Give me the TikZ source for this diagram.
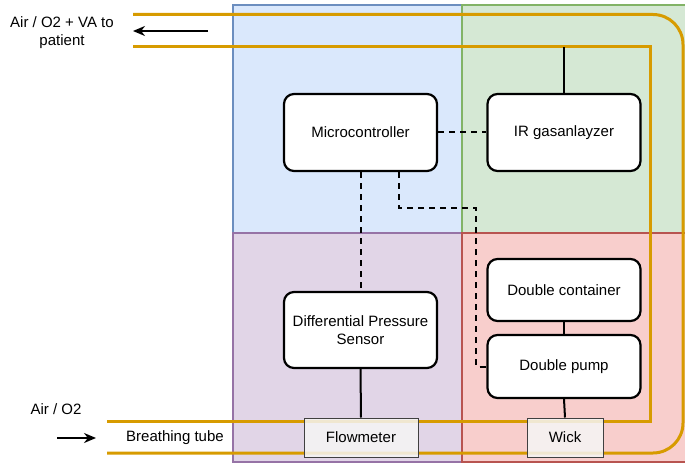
\documentclass[tikz,border=0pt]{standalone}
\usepackage{fontspec}
\setmainfont{Liberation Sans}
\usepackage{xcolor}
\usetikzlibrary{arrows, arrows.meta, positioning, calc}

\definecolor{tubeorange}{HTML}{D79B00}
\definecolor{blueFill}{HTML}{DAE8FC}
\definecolor{blueLine}{HTML}{6C8EBF}
\definecolor{greenFill}{HTML}{D5E8D4}
\definecolor{greenLine}{HTML}{82B366}
\definecolor{purpleFill}{HTML}{E1D5E7}
\definecolor{purpleLine}{HTML}{9673A6}
\definecolor{redFill}{HTML}{F8CECC}
\definecolor{redLine}{HTML}{B85450}

\begin{document}
\begin{tikzpicture}[>={Stealth[length=12pt,width=10pt]}, x=1pt, y=-1pt,
    every node/.style={font=\fontsize{15}{18}\selectfont},
    block/.style={rectangle, draw, line width=2.2pt, rounded corners=10pt, fill=white, minimum width=153pt, align=center},
    sensorbox/.style={rectangle, draw=black!75, line width=1pt, fill=black!4, fill opacity=0.85, text opacity=1, minimum height=39pt},
    tube/.style={draw=tubeorange, line width=3pt},
    region/.style={line width=1.5pt},
    wire/.style={line width=2pt},
    dashwire/.style={line width=2pt, dash pattern=on 6pt off 5pt}]
    \useasboundingbox (0,0) rectangle (685,465);

    \draw [region, fill=blueFill, draw=blueLine] (233,5) rectangle (462,233);
    \draw [region, fill=greenFill, draw=greenLine] (462,5) rectangle (686,233);
    \draw [region, fill=purpleFill, draw=purpleLine] (233,233) rectangle (462,462);
    \draw [region, fill=redFill, draw=redLine] (462,233) rectangle (686,462);

    \coordinate (inTop) at (133,47);
    \draw [tube, rounded corners=30pt] (133,14.5) -- (683,14.5) -- (683,453) -- (107,453);
    \draw [tube] (inTop) -- (650,47) -- (650,421) -- (107,421);

    \node (Out) at (62,33) [align=center] {Air / O2 + VA to\\patient};
    \coordinate (outStart) at (208,31);
    \coordinate (outEnd) at (133,31);
    \draw [->, wire] (outStart) -- (outEnd);

    \node (In) at (56,409) {Air / O2};
    \coordinate (inStart) at (57,438);
    \coordinate (inEnd) at (96,438);
    \draw [->, wire] (inStart) -- (inEnd);
    \node (Tube) at (175,438) {Breathing tube};

    \node (Micro) at (360.5,132.5) [block, minimum height=77pt] {Microcontroller};
    \node (IR) at (564,132.5) [block, minimum height=77pt] {IR gasanlayzer};
    \node (DPS) at (360.5,330) [block, minimum height=76pt] {Differential Pressure\\Sensor};
    \node (Container) at (564,290) [block, minimum height=62pt] {Double container};
    \node (Pump) at (564,366.5) [block, minimum height=63pt] {Double pump};

    \coordinate (bend) at (476,208);
    \draw [wire] (IR.north) -- (IR.north |- inTop);
    \draw [dashwire] (Micro.east) -- (IR.west);
    \draw [dashwire] (Micro.south) -- (DPS.north);
    \draw [dashwire] ([xshift=38.5pt]Micro.south) |- (bend) |- (Pump.west);
    \draw [wire] (Container.south) -- (Pump.north);

    \node (Flow) at (361,437.5) [sensorbox, minimum width=114pt] {Flowmeter};
    \node (Wick) at (565,437.5) [sensorbox, minimum width=76pt] {Wick};
    \draw [wire] (DPS.south) -- (Flow.north);
    \draw [wire] (Pump.south) -- (Wick.north);
\end{tikzpicture}
\end{document}
